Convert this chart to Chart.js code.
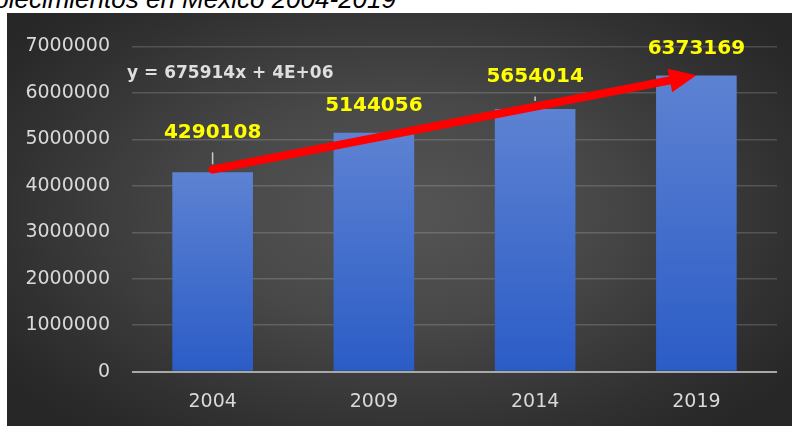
<!DOCTYPE html>
<html>
<head>
<meta charset="utf-8">
<script src="https://cdn.jsdelivr.net/npm/chart.js@4.4.0/dist/chart.umd.min.js"></script>
<style>
  html, body { margin: 0; padding: 0; background: #fff; width: 792px; height: 426px; overflow: hidden; }
  #titulo {
    position: absolute; right: 396px; top: -14px;
    font: italic 26px "Liberation Sans", Arial, sans-serif; line-height: 26px;
    white-space: nowrap; color: #000;
  }
  #panel {
    position: absolute; left: 7px; top: 13px; width: 785px; height: 413px;
    background: radial-gradient(ellipse 62% 68% at 50% 48%, #555555 0%, #484848 40%, #303030 82%, #272727 100%);
  }
</style>
</head>
<body>
<div id="titulo">Establecimientos en México 2004-2019</div>
<div id="panel"><canvas id="grafica"></canvas></div>
<script>
const anios = ['2004', '2009', '2014', '2019'];
const establecimientos = [4290108, 5144056, 5654014, 6373169];
const ticksY = [0, 1000000, 2000000, 3000000, 4000000, 5000000, 6000000, 7000000];

// altura de cada etiqueta sobre su barra (px)
const elevacion = [40, 26.5, 32.5, 27];

Chart.defaults.font.family = '"DejaVu Sans", sans-serif';

// tendencia lineal por minimos cuadrados (x = 1..n)
function ajusteLineal(valores) {
    let n = valores.length;
    let mx = (n + 1) / 2;
    let my = valores.reduce((a, b) => a + b, 0) / n;
    let num = 0, den = 0;
    valores.forEach((v, i) => {
        num += (i + 1 - mx) * (v - my);
        den += (i + 1 - mx) ** 2;
    });
    let m = num / den;
    return { m: m, b: my - m * mx };
}

function formatoExcel(v) {
    let partes = v.toExponential(0).split('e');
    let exp = Number(partes[1]);
    return partes[0] + 'E' + (exp < 0 ? '-' : '+') + String(Math.abs(exp)).padStart(2, '0');
}

const tendencia = ajusteLineal(establecimientos);
const ecuacion = 'y = ' + Math.round(tendencia.m) + 'x + ' + formatoExcel(tendencia.b);

const extras = {
    id: 'extras',
    afterDatasetsDraw(chart) {
        const ctx = chart.ctx;
        const xs = chart.scales.x, ys = chart.scales.y;
        const area = chart.chartArea;

        // flecha de tendencia
        let n = establecimientos.length;
        let x0 = xs.getPixelForValue(0), y0 = ys.getPixelForValue(tendencia.m * 1 + tendencia.b);
        let x1 = xs.getPixelForValue(n - 1), y1 = ys.getPixelForValue(tendencia.m * n + tendencia.b);
        let ang = Math.atan2(y1 - y0, x1 - x0);
        let largo = 27, ancho = 12;
        let bx = x1 - largo * Math.cos(ang), by = y1 - largo * Math.sin(ang);
        ctx.save();
        ctx.strokeStyle = '#ff0000';
        ctx.fillStyle = '#ff0000';
        ctx.lineWidth = 8;
        ctx.lineCap = 'round';
        ctx.beginPath();
        ctx.moveTo(x0, y0);
        ctx.lineTo(bx + 2 * Math.cos(ang), by + 2 * Math.sin(ang));
        ctx.stroke();
        ctx.beginPath();
        ctx.moveTo(x1, y1);
        ctx.lineTo(bx + ancho * Math.sin(ang), by - ancho * Math.cos(ang));
        ctx.lineTo(bx - ancho * Math.sin(ang), by + ancho * Math.cos(ang));
        ctx.closePath();
        ctx.fill();

        // etiquetas de valor
        const meta = chart.getDatasetMeta(0);
        ctx.font = 'bold 20px "DejaVu Sans", sans-serif';
        ctx.textAlign = 'center';
        ctx.textBaseline = 'middle';
        meta.data.forEach((barra, i) => {
            let yl = barra.y - elevacion[i];
            if (elevacion[i] > 30) {
                ctx.strokeStyle = '#c8c8c8';
                ctx.lineWidth = 1.5;
                ctx.lineCap = 'butt';
                ctx.beginPath();
                ctx.moveTo(barra.x, yl + 20);
                ctx.lineTo(barra.x, barra.y - 8);
                ctx.stroke();
            }
            ctx.fillStyle = '#ffff00';
            ctx.fillText(String(establecimientos[i]), barra.x, yl);
        });

        // ecuacion
        ctx.font = 'bold 17px "DejaVu Sans", sans-serif';
        ctx.textAlign = 'left';
        ctx.fillStyle = '#dedede';
        ctx.fillText(ecuacion, area.left - 5, area.top + 27);
        ctx.restore();
    }
};

new Chart(document.getElementById('grafica'), {
    type: 'bar',
    data: {
        labels: anios,
        datasets: [{
            label: 'Establecimientos',
            data: establecimientos,
            barPercentage: 0.5,
            categoryPercentage: 1,
            backgroundColor: c => {
                const chart = c.chart;
                if (!chart.chartArea || c.dataIndex === undefined) return '#4472c4';
                const ys = chart.scales.y;
                const g = chart.ctx.createLinearGradient(0, ys.getPixelForValue(establecimientos[c.dataIndex]), 0, ys.getPixelForValue(0));
                g.addColorStop(0, '#5d82d2');
                g.addColorStop(1, '#2b5cc6');
                return g;
            }
        }]
    },
    options: {
        responsive: true,
        maintainAspectRatio: false,
        animation: false,
        layout: { padding: { top: 29.7, right: 15, bottom: 0, left: 0 } },
        plugins: { legend: { display: false }, tooltip: { enabled: false } },
        scales: {
            x: {
                grid: { display: false, drawTicks: false },
                border: { display: false },
                ticks: { color: '#d9d9d9', font: { size: 19 }, padding: 19 },
                afterFit: s => { s.height = 54.3; }
            },
            y: {
                min: 0,
                max: 7000000,
                afterBuildTicks: s => { s.ticks = ticksY.map(v => ({ value: v })); },
                grid: {
                    drawTicks: false,
                    color: c => c.tick && c.tick.value === 0 ? '#a8a8a8' : 'rgba(255,255,255,0.16)',
                    lineWidth: c => c.tick && c.tick.value === 0 ? 2 : 1.5
                },
                border: { display: false },
                ticks: { color: '#d9d9d9', font: { size: 19 }, padding: 22, callback: v => String(v) },
                afterFit: s => { s.width = 125; }
            }
        }
    },
    plugins: [extras]
});
</script>
</body>
</html>
